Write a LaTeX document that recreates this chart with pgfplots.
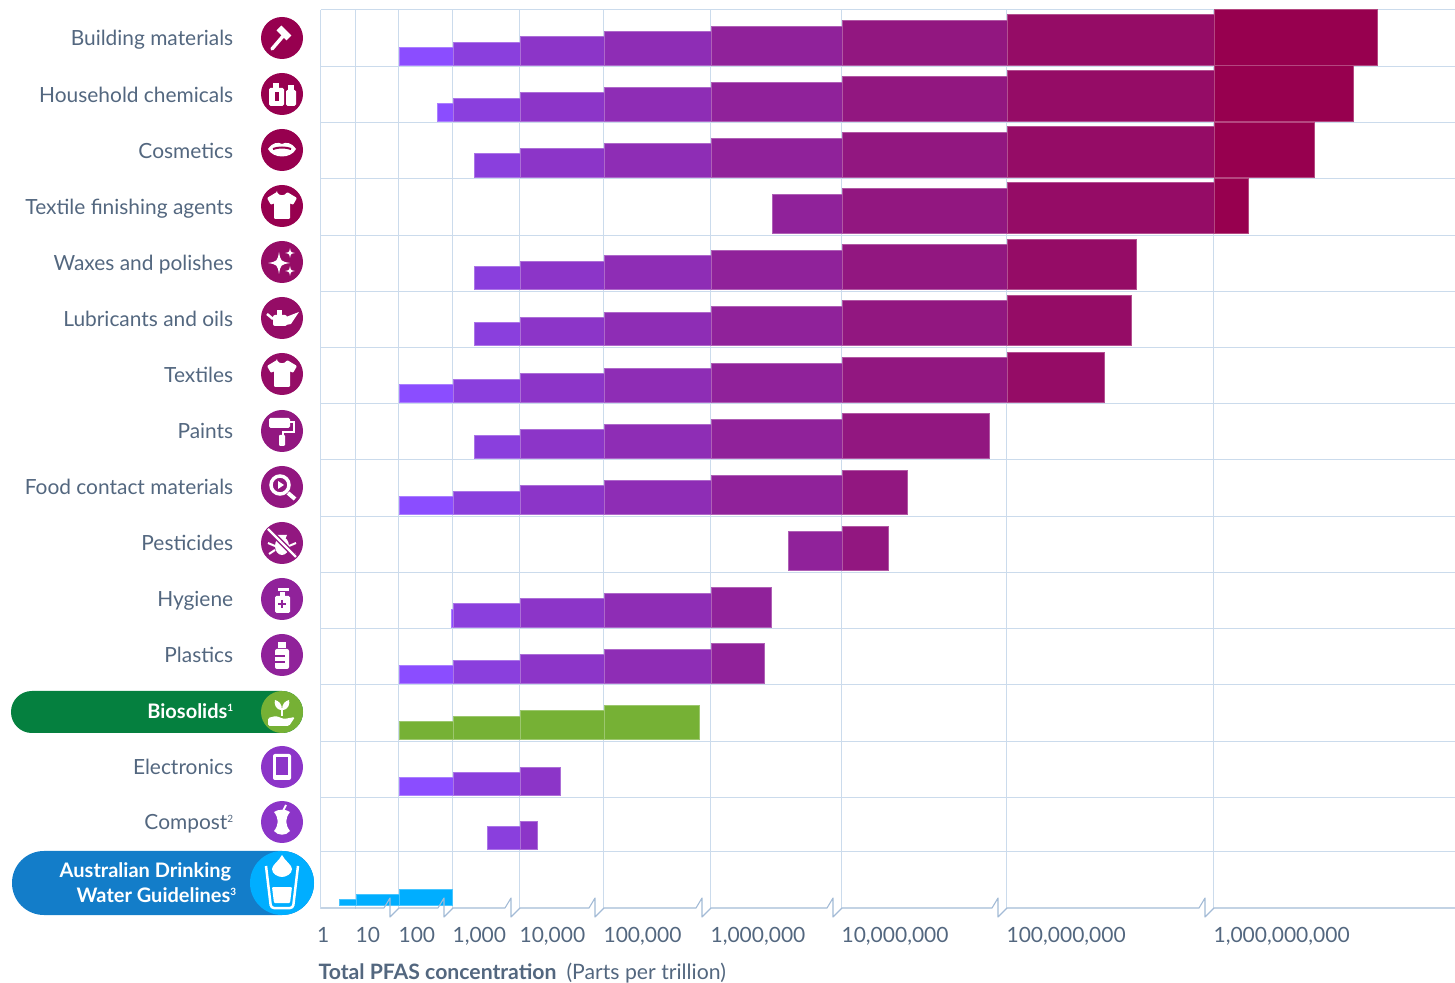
\documentclass[border=0pt]{standalone}
\usepackage{fontspec}
\usepackage{pgfplots}
\pgfplotsset{compat=1.18}
\setmainfont{Lato}
\definecolor{dA}{HTML}{00AEFF}
\definecolor{dB}{HTML}{8B4DFF}
\definecolor{dC}{HTML}{8A3FDD}
\definecolor{dD}{HTML}{8C35C8}
\definecolor{dE}{HTML}{8E2DB5}
\definecolor{dF}{HTML}{90229A}
\definecolor{dG}{HTML}{921780}
\definecolor{dH}{HTML}{950C66}
\definecolor{dI}{HTML}{97004F}
\definecolor{gB}{HTML}{76B135}
\definecolor{gD}{HTML}{05803F}
\definecolor{bD}{HTML}{137DC9}
\definecolor{gridc}{HTML}{CBDBEC}
\definecolor{axisc}{HTML}{A3BBD6}
\definecolor{txt}{HTML}{53677F}
% one bar piece: colour, x from, x to, top, bottom (picture rows)
\newcommand{\seg}[5]{\addplot[fill=#1,draw=#1!72!white,line width=.6pt,forget plot] coordinates {(#2,#5)(#3,#5)(#3,#4)(#2,#4)} --cycle;}
\newcommand{\spark}[3]{\fill[white] (#1,#2-#3) .. controls (#1+.15*#3,#2-.15*#3) .. (#1+#3,#2) .. controls (#1+.15*#3,#2+.15*#3) .. (#1,#2+#3) .. controls (#1-.15*#3,#2+.15*#3) .. (#1-#3,#2) .. controls (#1-.15*#3,#2-.15*#3) .. cycle;}
\newcommand{\disc}[3]{\fill[#1] (282,#2) circle[radius=21]; \begin{scope}[shift={(282,#2)}]#3\end{scope}}
\newcommand{\shirt}{\fill[white,rounded corners=1pt] (-5,-14) -- (-15,-8) -- (-11,-1) -- (-8,-3) -- (-8,13) -- (8,13) -- (8,-3) -- (11,-1) -- (15,-8) -- (5,-14) .. controls (3,-10) and (-3,-10) .. cycle;}
\newcommand{\brk}[1]{-- (#1-15,908) -- (#1-9,898) -- (#1-9,917) -- (#1,908)}
\newcommand{\sups}[1]{\raisebox{7pt}{\fontsize{10}{10}\selectfont #1}}
\newcommand{\wb}{\color{white}\fontsize{20}{25}\selectfont\bfseries}
\begin{document}
\begin{tikzpicture}
\useasboundingbox (0,0) rectangle (1455pt,982pt);
\begin{scope}[x=1pt,y=-1pt,yshift=982pt]
 % pills
 \fill[gD,rounded corners=20.9pt] (11,691) rectangle (303,733);
 \fill[bD,rounded corners=31.9pt] (12,851) rectangle (314,915);
\end{scope}
\begin{axis}[
  at={(320.9pt,73pt)},anchor=south west,scale only axis,
  width=1134.1pt,height=899pt,
  xmin=321,xmax=1455.1,ymin=10,ymax=909,y dir=reverse,
  clip=false,
  axis line style={draw=none},
  tick style={draw=none},
  xtick={321,356,399,453,520,604,711,842,1007,1214},
  xticklabels={{\kern-3.5pt 1},10,100,{1,000},{10,000},{100,000},{1,000,000},{10,000,000},{100,000,000},{1,000,000,000}},
  xmajorgrids,
  major x grid style={gridc,line width=1pt},
  minor ytick={10,66,122,178,235,291,347,403,459,516,572,628,684,741,797,851},
  yminorgrids,
  minor y grid style={gridc,line width=1pt},
  minor tick length=0pt,
  ytick={38,94,150,206,262,318,374,430,486,542,598,654,710,766,821,894},
  yticklabels={Building materials,Household chemicals,Cosmetics,Textile finishing agents,Waxes and polishes,Lubricants and oils,Textiles,Paints,Food contact materials,Pesticides,Hygiene,Plastics,{\wb Biosolids\sups{1}},Electronics,Compost\sups{2},{\wb Australian Drinking\kern2pt\\\wb Water Guidelines\sups{3}\kern-3pt}},
  yticklabel style={anchor=base east,xshift=-87.5pt,yshift=-8pt,align=right,font=\fontsize{20.9}{25}\selectfont,text=txt,inner sep=0pt},
  xticklabel style={anchor=base west,xshift=-.5pt,yshift=-33.5pt,font=\fontsize{21}{24}\selectfont,text=txt,inner sep=0pt},
  xlabel={\textbf{Total PFAS concentration}\hspace{10pt}(Parts per trillion)},
  xlabel style={at={(rel axis cs:0,0)},anchor=base west,xshift=-2.5pt,yshift=-70.5pt,font=\fontsize{21.2}{24}\selectfont,text=txt,inner sep=0pt},
]
% Building materials
\seg{dB}{399}{453}{47}{65}\seg{dC}{453}{520}{42}{65}\seg{dD}{520}{604}{36}{65}\seg{dE}{604}{711}{31}{65}\seg{dF}{711}{842}{26}{65}\seg{dG}{842}{1007}{20}{65}\seg{dH}{1007}{1214}{14}{65}\seg{dI}{1214}{1377}{9.5}{65}
% Household chemicals
\seg{dB}{437}{453}{103}{121}\seg{dC}{453}{520}{98}{121}\seg{dD}{520}{604}{92}{121}\seg{dE}{604}{711}{87}{121}\seg{dF}{711}{842}{82}{121}\seg{dG}{842}{1007}{76}{121}\seg{dH}{1007}{1214}{70}{121}\seg{dI}{1214}{1353}{65.5}{121}
% Cosmetics
\seg{dC}{474}{520}{153.5}{177}\seg{dD}{520}{604}{148}{177}\seg{dE}{604}{711}{143}{177}\seg{dF}{711}{842}{138}{177}\seg{dG}{842}{1007}{132}{177}\seg{dH}{1007}{1214}{126}{177}\seg{dI}{1214}{1314}{122}{177}
% Textile finishing agents
\seg{dF}{772}{842}{194}{233}\seg{dG}{842}{1007}{188}{233}\seg{dH}{1007}{1214}{182}{233}\seg{dI}{1214}{1248}{178}{233}
% Waxes and polishes
\seg{dC}{474}{520}{266}{289.5}\seg{dD}{520}{604}{261}{289.5}\seg{dE}{604}{711}{255}{289.5}\seg{dF}{711}{842}{250}{289.5}\seg{dG}{842}{1007}{244.5}{289.5}\seg{dH}{1007}{1136}{239}{289.5}
% Lubricants and oils
\seg{dC}{474}{520}{322}{345.5}\seg{dD}{520}{604}{317}{345.5}\seg{dE}{604}{711}{312}{345.5}\seg{dF}{711}{842}{306}{345.5}\seg{dG}{842}{1007}{300.5}{345.5}\seg{dH}{1007}{1131}{295}{345.5}
% Textiles
\seg{dB}{399}{453}{384}{402}\seg{dC}{453}{520}{379}{402}\seg{dD}{520}{604}{373}{402}\seg{dE}{604}{711}{368}{402}\seg{dF}{711}{842}{363}{402}\seg{dG}{842}{1007}{357}{402}\seg{dH}{1007}{1104}{352}{402}
% Paints
\seg{dC}{474}{520}{435}{458}\seg{dD}{520}{604}{429.5}{458}\seg{dE}{604}{711}{424}{458}\seg{dF}{711}{842}{419}{458}\seg{dG}{842}{989}{413.5}{458}
% Food contact materials
\seg{dB}{399}{453}{496.5}{514}\seg{dC}{453}{520}{491}{514}\seg{dD}{520}{604}{485.5}{514}\seg{dE}{604}{711}{480.5}{514}\seg{dF}{711}{842}{475}{514}\seg{dG}{842}{907}{470}{514}
% Pesticides
\seg{dF}{788}{842}{531}{570}\seg{dG}{842}{888}{526}{570}
% Hygiene
\seg{dB}{451}{453}{609}{627}\seg{dC}{453}{520}{603.5}{627}\seg{dD}{520}{604}{598}{627}\seg{dE}{604}{711}{593}{627}\seg{dF}{711}{771}{587.5}{627}
% Plastics
\seg{dB}{399}{453}{665}{683}\seg{dC}{453}{520}{660}{683}\seg{dD}{520}{604}{654}{683}\seg{dE}{604}{711}{649}{683}\seg{dF}{711}{764}{643.5}{683}
% Biosolids
\seg{gB}{399}{453}{721}{739}\seg{gB}{453}{520}{716}{739}\seg{gB}{520}{604}{710.5}{739}\seg{gB}{604}{699}{705}{739}
% Electronics
\seg{dB}{399}{453}{777}{795}\seg{dC}{453}{520}{772}{795}\seg{dD}{520}{560}{767}{795}
% Compost
\seg{dC}{487}{520}{826}{849}\seg{dD}{520}{537}{821}{849}
% Australian Drinking Water Guidelines
\seg{dA}{339}{356}{899.5}{905}\seg{dA}{356}{399}{894}{905}\seg{dA}{399}{452}{889}{905}
\end{axis}
\begin{scope}[x=1pt,y=-1pt,yshift=982pt]
 % broken x axis line
 \draw[axisc,line width=1.1pt,line join=round] (321,908) \brk{399} \brk{453} \brk{520} \brk{604} \brk{711} \brk{842} \brk{1007} \brk{1214} -- (1455,908);
 % hammer
 \disc{dI}{38}{\draw[white,line width=3.5pt,line cap=round] (2,-3) -- (-10,11); \draw[white,line width=7pt] (-3,-10) -- (7,0);}
 % bottles
 \disc{dI}{94}{\fill[white,rounded corners=1.5pt] (-13,-6) rectangle (2,12); \fill[white] (-9,-11) rectangle (-3,-6); \fill[white,rounded corners=1.5pt] (4,-4) rectangle (14,12); \fill[white] (6,-9) rectangle (12,-4); \fill[dI] (-7,-2) rectangle (-3,7);}
 % lips
 \disc{dI}{150}{\fill[white] (-14,-1) .. controls (-9,-8) and (-4,-8) .. (0,-6) .. controls (4,-8) and (9,-8) .. (14,-1) .. controls (9,9) and (-9,9) .. cycle; \draw[dI,line width=2pt] (-9,-1) .. controls (-4,-3) and (4,-3) .. (9,-1);}
 % shirt
 \disc{dI}{206}{\shirt}
 % sparkles
 \disc{dH}{262}{\spark{-3}{1}{11}\spark{8}{-9}{5}\spark{8}{9}{5}}
 % oil can
 \disc{dH}{318}{\fill[white,rounded corners=2pt] (-9,-3) -- (5,-3) -- (5,8) -- (-9,8) -- cycle; \fill[white] (4,-1) -- (17,-6) -- (9,6) -- (4,7) -- cycle; \fill[white] (-5,-8) rectangle (0,-3); \draw[white,line width=2.5pt] (-15,-4) -- (-9,1);}
 % shirt
 \disc{dH}{374}{\shirt}
 % roller
 \disc{dG}{431}{\fill[white,rounded corners=1.5pt] (-13,-13) rectangle (8,-3); \draw[white,line width=2pt] (8,-9) -- (12,-9) -- (12,1) -- (1,1) -- (1,5); \fill[white,rounded corners=1pt] (-3,4) rectangle (3,15);}
 % magnifier
 \disc{dG}{487}{\draw[white,line width=3.5pt] (-2,-2) circle[radius=9]; \fill[white] (-4,-6) -- (2,-2) -- (-4,2) -- cycle; \draw[white,line width=4pt] (6,6) -- (13,12);}
 % crossed bug
 \disc{dG}{543}{\fill[white] (0,3) ellipse[x radius=7,y radius=9]; \fill[white] (-5,-8) arc[start angle=180,end angle=0,radius=5] -- cycle; \draw[white,line width=2pt] (-7,3) -- (-14,0) (-7,7) -- (-13,11) (7,3) -- (14,0) (7,7) -- (13,11); \draw[dG,line width=5pt] (-12,-12) -- (12,12); \draw[white,line width=2.2pt] (-14,-14) -- (14,14);}
 % dispenser
 \disc{dF}{599}{\fill[white,rounded corners=1.5pt] (-7,-3) rectangle (8,14); \fill[white] (-2,-7) rectangle (3,-3); \fill[white] (-4,-11) rectangle (7,-8); \draw[dF,line width=2pt] (0,1) -- (0,9) (-4,5) -- (4,5);}
 % bottle
 \disc{dF}{655}{\fill[white,rounded corners=2pt] (-7,-6) rectangle (7,14); \fill[white] (-4,-13) rectangle (4,-7); \draw[dF,line width=1.8pt] (-7,1) -- (3,1) (-7,7) -- (3,7);}
 % sprout on hand
 \disc{gB}{712}{\draw[white,line width=2pt] (0,-2) -- (0,4); \fill[white] (0,-2) .. controls (-7,-2) and (-8,-9) .. (-7,-12) .. controls (-3,-11) and (0,-8) .. cycle; \fill[white] (0,-2) .. controls (7,-2) and (8,-9) .. (7,-12) .. controls (3,-11) and (0,-8) .. cycle; \fill[white,rounded corners=1.5pt] (-14,6) -- (-6,4) -- (2,7) -- (13,5) -- (7,14) -- (-14,14) -- cycle;}
 % tablet
 \disc{dD}{767}{\fill[white,rounded corners=2pt] (-9,-13) rectangle (9,13); \fill[dD] (-6,-10) rectangle (6,8);}
 % apple core
 \disc{dD}{822}{\fill[white] (-8,-10) .. controls (-3,-4) and (-3,3) .. (-8,9) .. controls (-4,14) and (4,14) .. (8,9) .. controls (3,3) and (3,-4) .. (8,-10) .. controls (4,-13) and (-4,-13) .. cycle; \draw[white,line width=2pt] (1,-11) -- (4,-17);}
 % water glass
 \fill[dA] (282,883) circle[radius=32];
 \begin{scope}[shift={(282,883)}]
  \draw[white,line width=2.5pt,rounded corners=3pt] (-16,-17) -- (-11,25) -- (11,25) -- (16,-17);
  \fill[white,rounded corners=1pt] (-10,4) -- (-8,20) -- (8,20) -- (10,4) -- cycle;
  \fill[white] (0,-28) .. controls (3,-22) and (10,-18) .. (10,-14) .. controls (10,-9) and (4,-6) .. (0,-6) .. controls (-4,-6) and (-10,-9) .. (-10,-14) .. controls (-10,-18) and (-3,-22) .. cycle;
 \end{scope}
\end{scope}
\end{tikzpicture}
\end{document}
